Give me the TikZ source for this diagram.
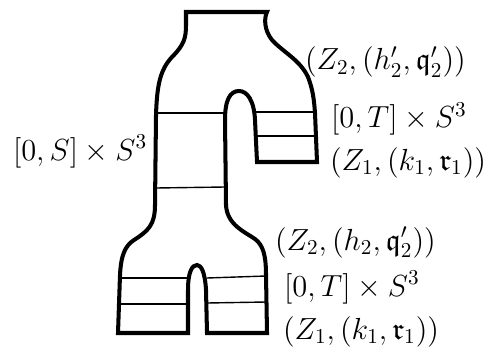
\documentclass[tikz,border=0pt]{standalone}
\usepackage{amssymb}

\begin{document}
\begin{tikzpicture}[x=0.472pt, y=-0.472pt, line width=1.9pt, font=\fontsize{14.4}{17.3}\selectfont]
  % ── 画布：与原图 485×348 同比例 ──
  \path[use as bounding box] (0,0) rectangle (485,348);

  % ── 外轮廓：一条闭合路径（上颈 → 右上腿 → 中拱 → 下两腿）──
  \draw (186,12) -- (267,12)
    .. controls (264,18) and (264,30) .. (272,40)
    .. controls (283,52) and (300,60) .. (308,77)
    .. controls (313,90) and (314,100) .. (315,113)
    -- (317,162) -- (257,162) -- (255,120)
    .. controls (254,100) and (247,91) .. (239,91)
    .. controls (230,91) and (225,100) .. (225,120)
    -- (226,205)
    .. controls (227,225) and (245,232) .. (255,239)
    .. controls (263,245) and (266,255) .. (266,275)
    -- (267,333) -- (207,333) -- (206,290)
    .. controls (205,272) and (201,265) .. (197,265)
    .. controls (192,265) and (188,272) .. (188,290)
    -- (188,333) -- (118,333) -- (120,275)
    .. controls (121,255) and (125,246) .. (134,240)
    .. controls (148,231) and (155,225) .. (155,205)
    -- (156,115)
    .. controls (157,85) and (160,70) .. (172,57)
    .. controls (184,45) and (186,38) .. (186,25)
    -- cycle;

  % ── 细横线（截面）：一行 \foreach ──
  \foreach \xa/\ya/\xb/\yb in {157/113/225/113, 254/112/315/112, 257/136/316/136,
      156/188/225/187, 119/278/188/278, 119/304/188/304, 207/278/266/276, 207/303/266/302}
    \draw[line width=0.66pt] (\xa,\ya) -- (\xb,\yb);

  % ── 标签 ──
  \node[anchor=base west,inner sep=0pt] (lblS)    at (11,160)  {$[0,S]\times S^3$};
  \node[anchor=base west,inner sep=0pt] (lblZtwo) at (303,70)  {$(Z_2,(h'_2,\mathfrak{q}'_2))$};
  \node[anchor=base west,inner sep=0pt] (lblTup)  at (329,128) {$[0,T]\times S^3$};
  \node[anchor=base west,inner sep=0pt] (lblZone) at (328,170) {$(Z_1,(k_1,\mathfrak{r}_1))$};
  \node[anchor=base west,inner sep=0pt] (lblZtwoB) at (273,250) {$(Z_2,(h_2,\mathfrak{q}'_2))$};
  \node[anchor=base west,inner sep=0pt] (lblTlow) at (282,296) {$[0,T]\times S^3$};
  \node[anchor=base west,inner sep=0pt] (lblZoneB) at (281,339) {$(Z_1,(k_1,\mathfrak{r}_1))$};
\end{tikzpicture}
\end{document}
